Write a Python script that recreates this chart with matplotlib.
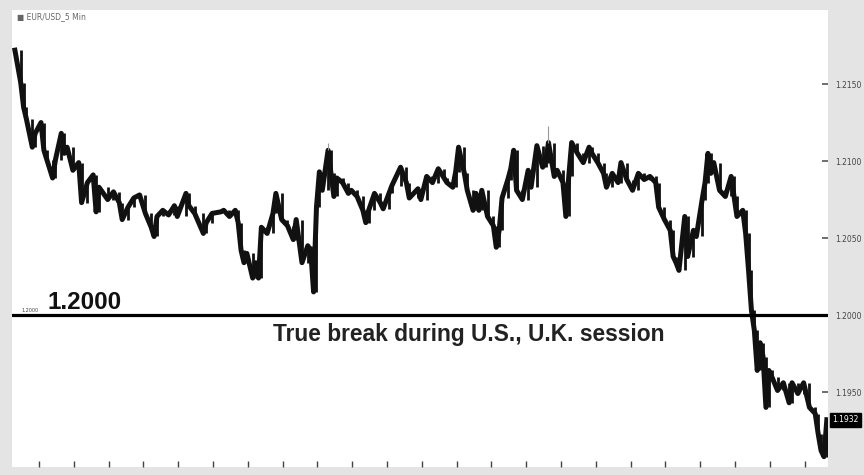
import matplotlib
matplotlib.use("Agg")
import matplotlib.pyplot as plt
import numpy as np

# EUR/USD 5 min closes, bar number -> close
bars = [1, 3, 4, 5, 7, 8, 10, 11, 12, 14, 15, 17, 18, 19, 21, 23, 24, 26, 28, 29,
        30, 33, 35, 37, 38, 40, 42, 44, 46, 48, 49, 50, 52, 54, 56, 57, 60, 61, 63, 66,
        67, 69, 72, 73, 75, 77, 78, 79, 80, 81, 83, 84, 85, 86, 88, 90, 91, 93, 95, 97,
        98, 100, 102, 103, 104, 105, 106, 107, 109, 110, 111, 112, 114, 116, 117, 119, 121, 122, 123, 125,
        127, 128, 130, 131, 134, 136, 137, 140, 141, 143, 145, 147, 149, 150, 152, 153, 154, 156, 157, 159,
        160, 161, 162, 164, 166, 167, 168, 169, 171, 172, 173, 174, 176, 178, 179, 181, 183, 184, 185, 187,
        188, 190, 191, 192, 193, 195, 197, 199, 200, 202, 204, 205, 207, 209, 210, 212, 214, 216, 218, 220,
        222, 223, 225, 227, 228, 229, 230, 232, 233, 235, 236, 238, 239, 240, 241, 242, 244, 246, 248, 249,
        250, 252, 253, 254, 255, 256, 257, 258, 259, 260, 261, 262, 264, 266, 268, 269, 271, 273, 275, 277,
        278, 279, 280, 281]
closes = [1.2172, 1.2151, 1.2135, 1.2127, 1.2109, 1.2118, 1.2125, 1.2107, 1.2101, 1.2089,
          1.2101, 1.2118, 1.2105, 1.2109, 1.2094, 1.2099, 1.2073, 1.2086, 1.2091, 1.2067,
          1.2083, 1.2075, 1.2080, 1.2073, 1.2062, 1.2070, 1.2076, 1.2078, 1.2066, 1.2057,
          1.2051, 1.2064, 1.2068, 1.2065, 1.2071, 1.2064, 1.2079, 1.2071, 1.2066, 1.2053,
          1.2060, 1.2066, 1.2067, 1.2068, 1.2064, 1.2068, 1.2060, 1.2042, 1.2034, 1.2040,
          1.2024, 1.2034, 1.2024, 1.2057, 1.2053, 1.2066, 1.2079, 1.2062, 1.2058, 1.2049,
          1.2062, 1.2034, 1.2045, 1.2042, 1.2015, 1.2070, 1.2093, 1.2081, 1.2107, 1.2092,
          1.2077, 1.2089, 1.2086, 1.2079, 1.2081, 1.2077, 1.2068, 1.2060, 1.2068, 1.2079,
          1.2073, 1.2069, 1.2079, 1.2084, 1.2096, 1.2086, 1.2076, 1.2082, 1.2075, 1.2090,
          1.2086, 1.2095, 1.2089, 1.2086, 1.2083, 1.2093, 1.2109, 1.2092, 1.2081, 1.2068,
          1.2079, 1.2068, 1.2081, 1.2064, 1.2058, 1.2044, 1.2055, 1.2076, 1.2088, 1.2095,
          1.2107, 1.2081, 1.2075, 1.2094, 1.2083, 1.2110, 1.2096, 1.2099, 1.2112, 1.2090,
          1.2094, 1.2086, 1.2064, 1.2090, 1.2112, 1.2105, 1.2099, 1.2109, 1.2105, 1.2099,
          1.2092, 1.2083, 1.2092, 1.2086, 1.2099, 1.2088, 1.2081, 1.2092, 1.2088, 1.2090,
          1.2086, 1.2070, 1.2062, 1.2055, 1.2038, 1.2034, 1.2029, 1.2064, 1.2038, 1.2055,
          1.2051, 1.2075, 1.2086, 1.2105, 1.2092, 1.2099, 1.2081, 1.2077, 1.2090, 1.2077,
          1.2064, 1.2068, 1.2053, 1.2029, 1.2003, 1.1990, 1.1964, 1.1982, 1.1973, 1.1940,
          1.1964, 1.1960, 1.1951, 1.1956, 1.1943, 1.1956, 1.1949, 1.1956, 1.1940, 1.1936,
          1.1923, 1.1912, 1.1908, 1.1932]

# a few thin wicks that stick out of the band
wick_bars = [109, 185]
wick_highs = [1.2112, 1.2123]

price_ticks = [1.1950, 1.2000, 1.2050, 1.2100, 1.2150]
break_level = 1.2000
last_price = 1.1932
hour_ticks = np.arange(9.3, 282, 12)

bg = "#e4e4e4"
fig = plt.figure(figsize=(8.64, 4.75), dpi=100)
fig.set_facecolor(bg)
ax = fig.add_axes([12 / 864, 8 / 475, 816 / 864, 457 / 475])
ax.set_facecolor("white")

# candles: open = previous close, bar bodies plus the path between closes
opens = [closes[0]] + closes[:-1]
ax.vlines(bars, np.minimum(opens, closes), np.maximum(opens, closes), color="#111111", lw=2.0)
ax.plot(bars, closes, color="#111111", lw=3.6, solid_joinstyle="round")
ax.vlines(wick_bars, [closes[bars.index(b)] for b in wick_bars], wick_highs, color="#999999", lw=0.8)

ax.axhline(break_level, color="black", lw=2.3, zorder=5)

ax.set_xlim(0, 281.4)
ax.set_ylim(1.19013, 1.21981)

for side in ["top", "left", "right", "bottom"]:
    ax.spines[side].set_visible(False)

ax.yaxis.tick_right()
ax.set_yticks(price_ticks)
ax.set_yticklabels(["%.4f" % p for p in price_ticks])
ax.tick_params(axis="y", direction="in", length=4, width=1.2, color="#555555",
               labelsize=5.5, labelcolor="#444444", pad=5)
ax.set_xticks(hour_ticks)
ax.set_xticklabels([])
ax.tick_params(axis="x", direction="in", length=4, width=1.0, color="#444444", pad=2)

fig.text(17 / 864, 1 - 17 / 475, "\u25a0 EUR/USD_5 Min", fontsize=5.5, color="#666666",
         va="center", ha="left")

ax.text(0.012, break_level + 0.0001, "1.2000", fontsize=3.5, color="#444444",
        transform=ax.get_yaxis_transform(), va="bottom")
ax.text(0.044, break_level + 0.00005, "1.2000", fontsize=17.5, fontweight="bold",
        family="Liberation Sans", color="#111111",
        transform=ax.get_yaxis_transform(), va="bottom")
ax.text(0.320, break_level - 0.0005, "True break during U.S., U.K. session", fontsize=16.4,
        fontweight="bold", family="Liberation Sans", color="#222222",
        transform=ax.get_yaxis_transform(), va="top", ha="left")

# last price flag
ax.annotate("%.4f" % last_price, xy=(1.0, last_price), xycoords=ax.get_yaxis_transform(),
            xytext=(3, 0), textcoords="offset points", fontsize=5.5, color="white",
            va="center", ha="left",
            bbox=dict(boxstyle="square,pad=0.3", fc="black", ec="black"),
            annotation_clip=False)

fig.savefig("out.png", dpi=100, facecolor=bg)
